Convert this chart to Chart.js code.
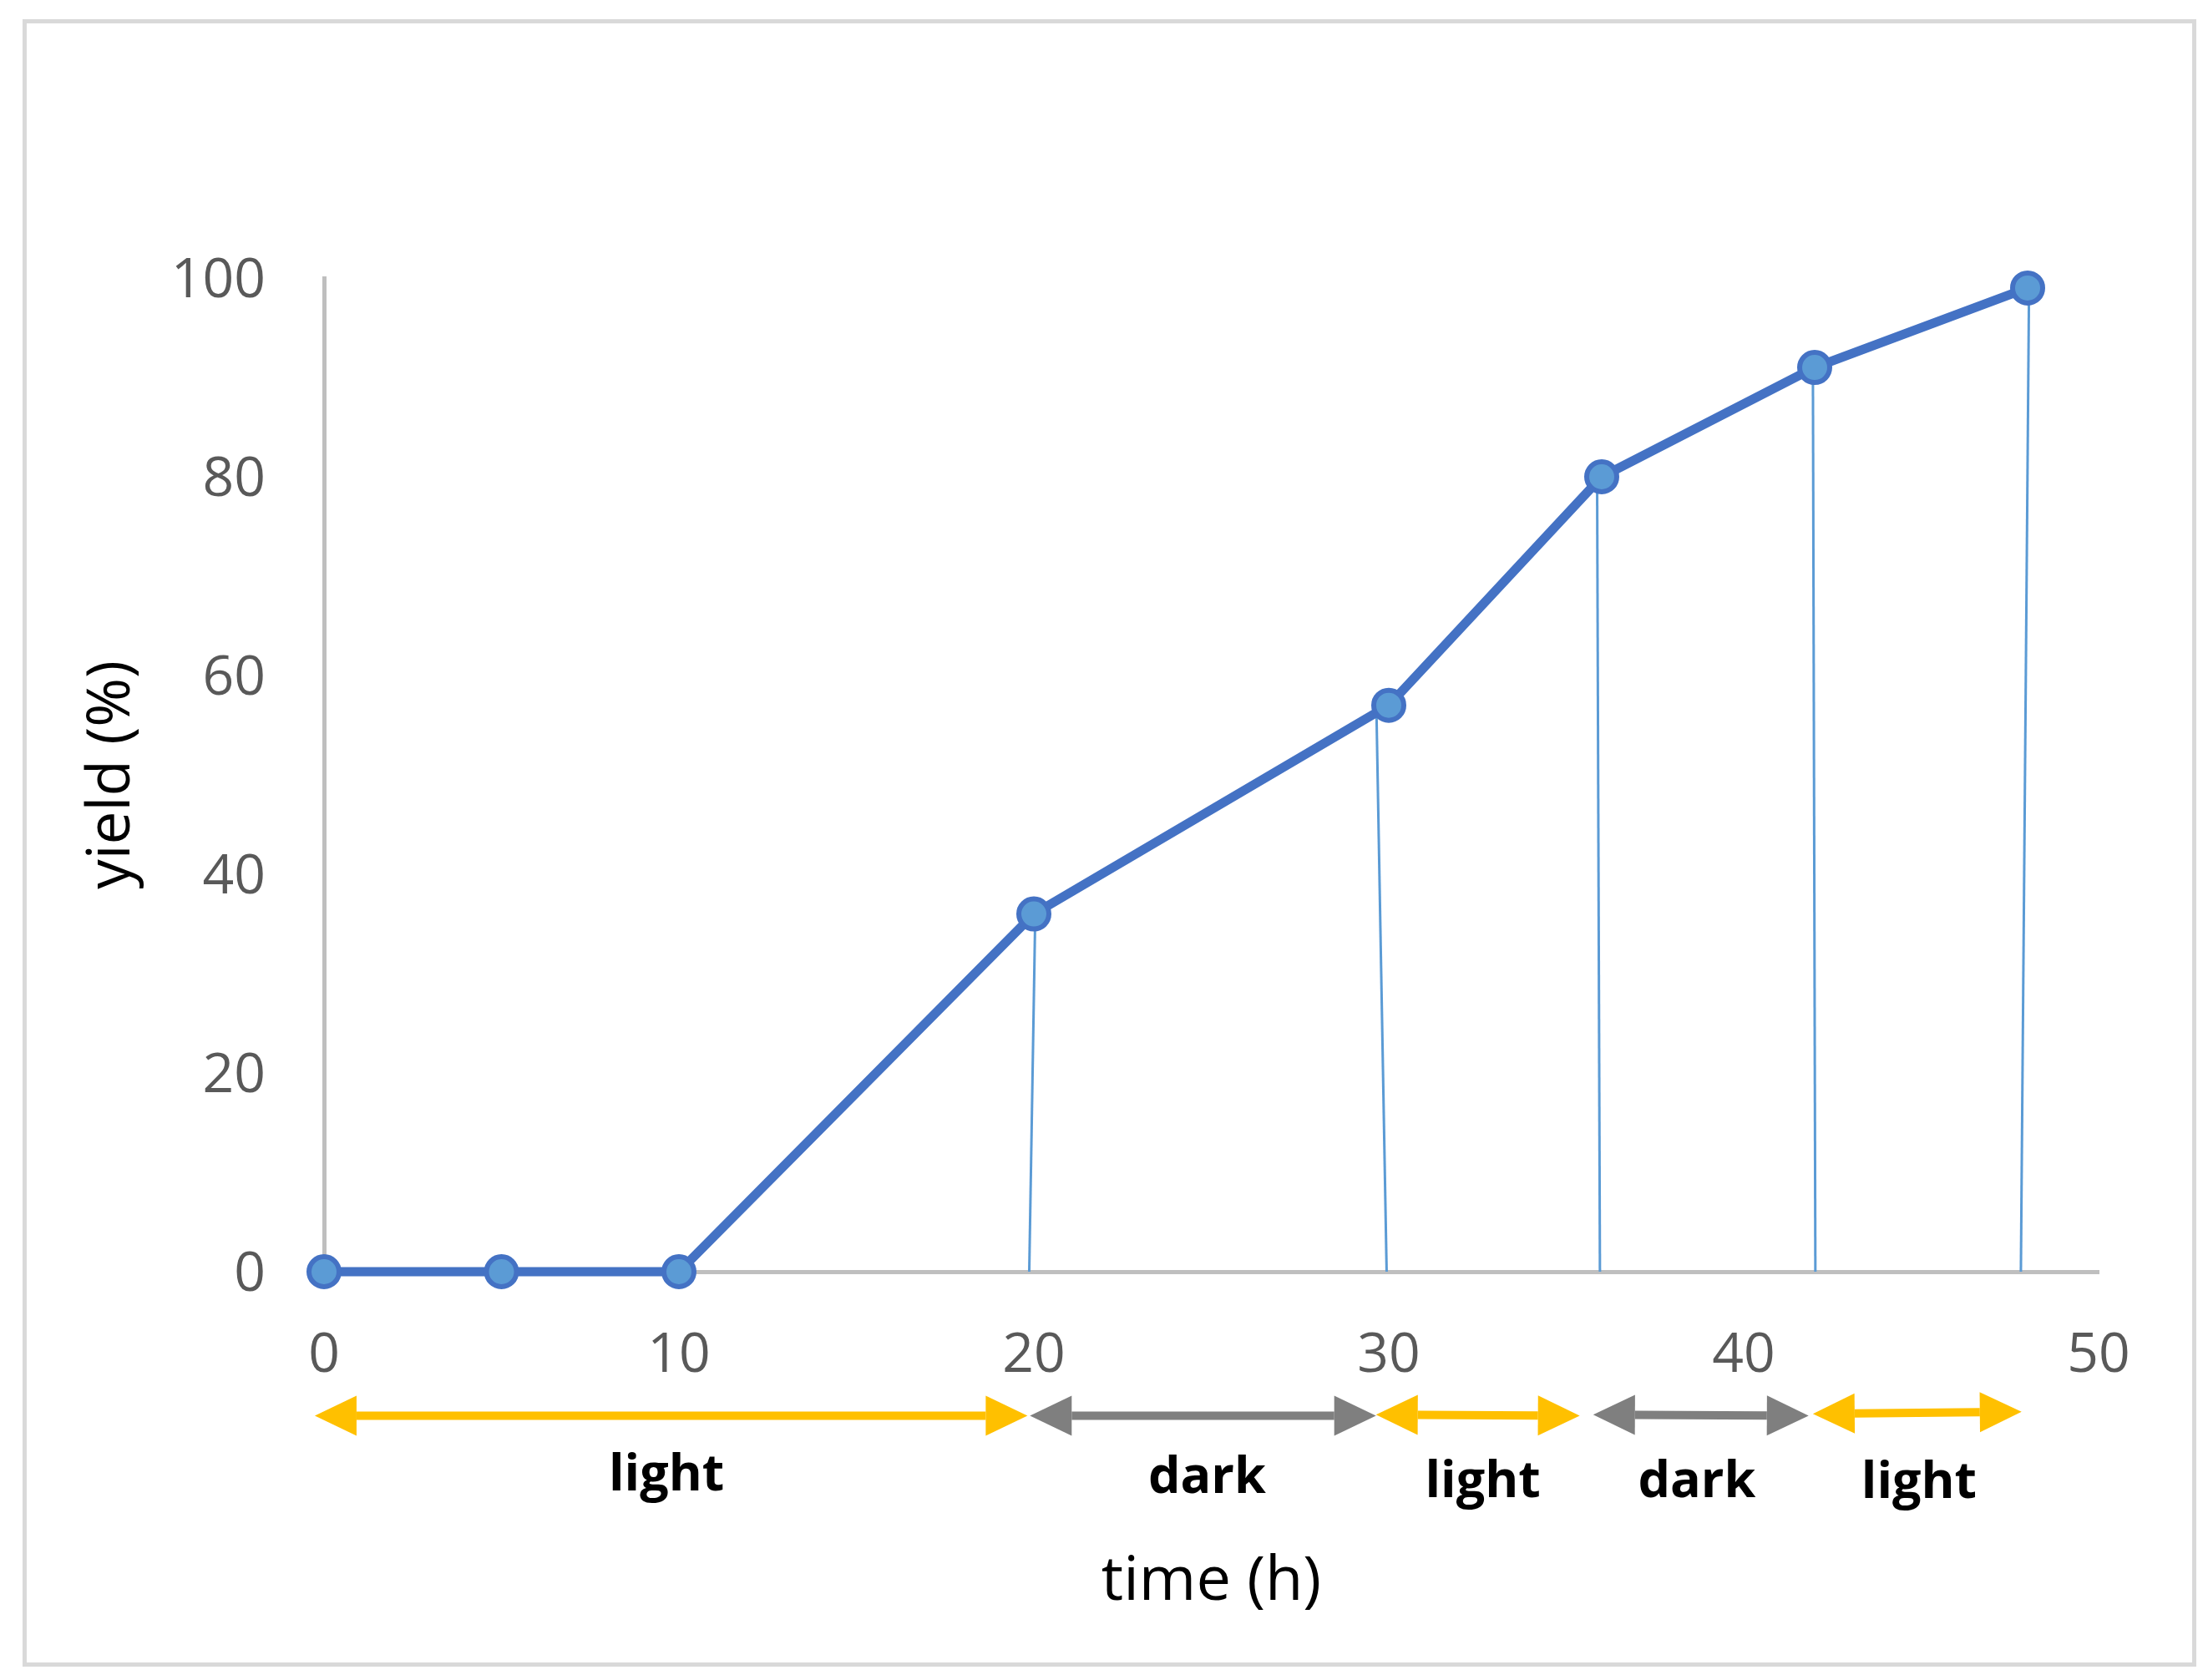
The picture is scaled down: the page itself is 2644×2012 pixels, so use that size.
<!DOCTYPE html>
<html>
<head>
<meta charset="utf-8">
<title>yield vs time</title>
<script src="https://cdn.jsdelivr.net/npm/chart.js@4.4.1/dist/chart.umd.min.js"></script>
<style>
  html, body { margin: 0; padding: 0; background: #fff; }
  #wrap { position: relative; width: 2644px; height: 2012px; }
  #myChart { display: block; }
  #frame { position: absolute; left: 27px; top: 23px; width: 2603px; height: 1973px;
           border: 5px solid #d9d9d9; box-sizing: border-box; pointer-events: none; }
</style>
</head>
<body>
<div id="wrap">
  <canvas id="myChart" width="2644" height="2012"></canvas>
  <div id="frame"></div>
</div>
<script>
"use strict";
// series
const timeHours = [0, 5, 10, 20, 30, 36, 42, 48];
const yieldPct = [0, 0, 0, 36, 57, 80, 91, 99];
const xTicks = [0, 10, 20, 30, 40, 50];
const yTicks = [0, 20, 40, 60, 80, 100];

// thin drop lines (hand drawn, slightly slanted)
const dropTopX = [20.04, 29.65, 35.87, 41.95, 48.04];
const dropTopY = [36, 57, 80, 91, 99];
const dropBottomX = [19.87, 29.94, 35.95, 42.02, 47.81];

// light / dark periods under the axis
const periodNames = ["light", "dark", "light", "dark", "light"];
const periodStartX = [-0.26, 19.89, 29.64, 35.76, 41.95];
const periodEndX = [19.82, 29.64, 35.38, 41.83, 47.83];
const periodStartY = [-14.5, -14.5, -14.4, -14.4, -14.3];
const periodEndY = [-14.5, -14.5, -14.5, -14.5, -14.1];
const periodLabelX = [9.65, 24.88, 32.65, 38.68, 44.94];
const periodLabelY = [-22.0, -22.3, -22.7, -22.7, -22.8];

const colors = {
    line: "#4472C4",
    marker: "#5B9BD5",
    axis: "#BFBFBF",
    tick: "#595959",
    light: "#FFC000",
    dark: "#7F7F7F"
};

function drawArrow(ctx, x1, y1, x2, y2, color) {
    const head = 50, half = 24;
    const ang = Math.atan2(y2 - y1, x2 - x1);
    const cos = Math.cos(ang), sin = Math.sin(ang);
    ctx.save();
    ctx.strokeStyle = color;
    ctx.fillStyle = color;
    ctx.lineWidth = 10;
    ctx.beginPath();
    ctx.moveTo(x1 + cos * head, y1 + sin * head);
    ctx.lineTo(x2 - cos * head, y2 - sin * head);
    ctx.stroke();
    // heads at both ends
    [[x2, y2, 1], [x1, y1, -1]].forEach(([tx, ty, d]) => {
        const bx = tx - d * cos * head, by = ty - d * sin * head;
        ctx.beginPath();
        ctx.moveTo(tx, ty);
        ctx.lineTo(bx - sin * half, by + cos * half);
        ctx.lineTo(bx + sin * half, by - cos * half);
        ctx.closePath();
        ctx.fill();
    });
    ctx.restore();
}

const periodPlugin = {
    id: "periods",
    beforeDatasetsDraw(chart) {
        const {ctx, scales: {x, y}} = chart;
        ctx.save();
        ctx.strokeStyle = colors.marker;
        ctx.lineWidth = 3;
        dropTopX.forEach((tx, i) => {
            ctx.beginPath();
            ctx.moveTo(x.getPixelForValue(tx), y.getPixelForValue(dropTopY[i]));
            ctx.lineTo(x.getPixelForValue(dropBottomX[i]), y.getPixelForValue(0));
            ctx.stroke();
        });
        ctx.restore();
    },
    afterDraw(chart) {
        const {ctx, scales: {x, y}} = chart;
        periodNames.forEach((name, i) => {
            drawArrow(ctx,
                x.getPixelForValue(periodStartX[i]), y.getPixelForValue(periodStartY[i]),
                x.getPixelForValue(periodEndX[i]), y.getPixelForValue(periodEndY[i]),
                colors[name]);
        });
        ctx.save();
        ctx.fillStyle = "#000";
        ctx.font = "bold 61px 'Open Sans'";
        ctx.textAlign = "center";
        ctx.textBaseline = "alphabetic";
        periodNames.forEach((name, i) => {
            ctx.fillText(name, x.getPixelForValue(periodLabelX[i]), y.getPixelForValue(periodLabelY[i]));
        });
        ctx.restore();
    }
};

Chart.defaults.font.family = "'Open Sans'";

const chart = new Chart(document.getElementById("myChart"), {
    type: "line",
    data: {
        datasets: [{
            data: timeHours.map((t, i) => ({x: t, y: yieldPct[i]})),
            borderColor: colors.line,
            borderWidth: 11,
            tension: 0,
            pointRadius: 18,
            pointBorderWidth: 6,
            pointBackgroundColor: colors.marker,
            pointBorderColor: colors.line,
            clip: false
        }]
    },
    options: {
        responsive: false,
        animation: false,
        devicePixelRatio: 1,
        layout: {padding: {left: 92, top: 333, right: 131, bottom: 73}},
        plugins: {legend: {display: false}, tooltip: {enabled: false}},
        scales: {
            x: {
                type: "linear",
                min: 0,
                max: 50,
                afterBuildTicks: s => { s.ticks = xTicks.map(v => ({value: v})); },
                afterFit: s => { s.height = 416; },
                grid: {display: false, drawTicks: false},
                border: {display: true, color: colors.axis, width: 5},
                ticks: {color: colors.tick, font: {size: 66}, padding: 62, maxRotation: 0},
                title: {display: true, text: "time (h)", color: "#000", font: {size: 74}, padding: 0}
            },
            y: {
                type: "linear",
                min: 0,
                max: 100,
                afterBuildTicks: s => { s.ticks = yTicks.map(v => ({value: v})); },
                afterFit: s => { s.width = 296; },
                grid: {display: false, drawTicks: false},
                border: {display: true, color: colors.axis, width: 5},
                ticks: {color: colors.tick, font: {size: 66}, padding: 70, labelOffset: 4},
                title: {display: true, text: "yield (%)", color: "#000", font: {size: 71}, padding: 0}
            }
        }
    },
    plugins: [periodPlugin]
});
</script>
</body>
</html>
